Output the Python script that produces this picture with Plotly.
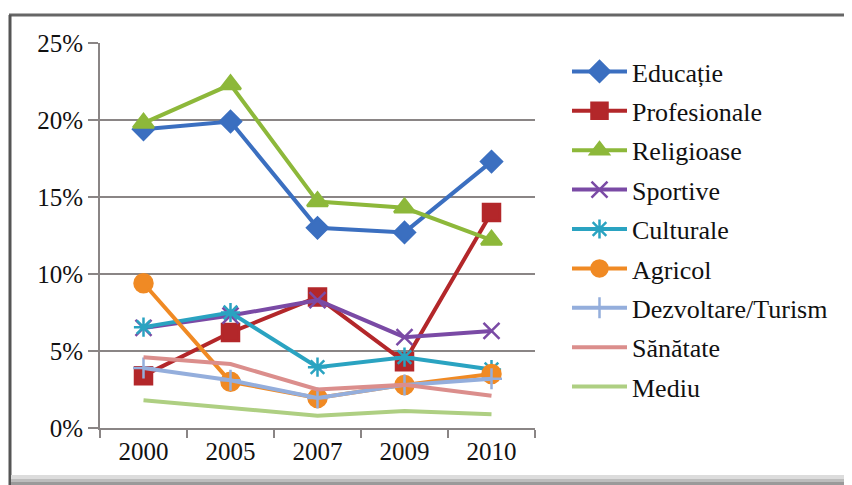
import plotly.graph_objects as go

years = ["2000", "2005", "2007", "2009", "2010"]
tick_vals = [0, 5, 10, 15, 20, 25]
tick_text = ["0%", "5%", "10%", "15%", "20%", "25%"]

educatie = [19.4, 19.9, 13.0, 12.7, 17.3]
profesionale = [3.4, 6.2, 8.5, 4.3, 14.0]
religioase = [19.8, 22.3, 14.7, 14.3, 12.2]
sportive = [6.5, 7.3, 8.3, 5.9, 6.3]
culturale = [6.55, 7.5, 3.95, 4.6, 3.8]
agricol = [9.4, 3.0, 1.95, 2.8, 3.5]
dezvoltare = [3.9, 3.1, 1.95, 2.8, 3.2]
sanatate = [4.6, 4.15, 2.5, 2.8, 2.1]
mediu = [1.8, 1.3, 0.8, 1.1, 0.9]

series = [
    ("Educație", educatie, "#3B6FC0", "diamond", 16),
    ("Profesionale", profesionale, "#B3272A", "square", 17),
    ("Religioase", religioase, "#8DB83A", "triangle-up", 18),
    ("Sportive", sportive, "#7A4AA5", "x-thin-open", 16),
    ("Culturale", culturale, "#2AA3C1", "asterisk-open", 16),
    ("Agricol", agricol, "#F08A24", "circle", 18),
    ("Dezvoltare/Turism", dezvoltare, "#94AEDC", "cross-thin-open", 15),
    ("Sănătate", sanatate, "#DB8E8C", None, 0),
    ("Mediu", mediu, "#AECF82", None, 0),
]

FONT = "Liberation Serif, Times New Roman, serif"

fig = go.Figure()
for i, (name, vals, color, sym, size) in enumerate(series):
    if sym is None:
        mode = "lines"
        marker = None
    else:
        mode = "lines+markers"
        marker = dict(symbol=sym, size=size, color=color,
                      line=dict(color=color, width=2.5))
    fig.add_trace(go.Scatter(
        x=years, y=vals, name=name, mode=mode,
        line=dict(color=color, width=4),
        marker=marker, legendgroup=f"g{i}",
    ))

W, H = 844, 477

fig.update_layout(
    width=W, height=H,
    margin=dict(l=92, r=317, t=35, b=57, autoexpand=False),
    paper_bgcolor="white", plot_bgcolor="white",
    font=dict(family=FONT, size=26, color="#111111"),
    showlegend=True,
    legend=dict(
        xref="container", yref="container", x=559/W, y=1-40/H,
        xanchor="left", yanchor="top",
        font=dict(family=FONT, size=26), itemwidth=55, tracegroupgap=2.6,
        bgcolor="rgba(0,0,0,0)", traceorder="grouped", maxheight=470,
    ),
    xaxis=dict(
        type="category", showgrid=False, showline=True, linecolor="#8a8585", linewidth=2,
        ticks="outside", ticklen=8, tickcolor="#8a8585", tickwidth=2,
        tickson="boundaries", tickfont=dict(family=FONT, size=25), range=[-0.5, 4.5], fixedrange=True,
    ),
    yaxis=dict(
        range=[0, 25], tickvals=tick_vals, ticktext=tick_text,
        showgrid=True, gridcolor="#8a8585", gridwidth=1.5,
        showline=True, linecolor="#8a8585", linewidth=2,
        ticks="outside", ticklen=10, tickcolor="#8a8585", tickwidth=2,
        tickfont=dict(family=FONT, size=25), zeroline=False, fixedrange=True,
    ),
)

def px_x(x):
    return (x - 100) / 435

def px_y(y):
    return (428 - y) / 385

fig.update_layout(shapes=[
    dict(type="line", xref="paper", yref="paper", x0=px_x(9), x1=px_x(870), y0=px_y(15), y1=px_y(15),
         line=dict(color="#666666", width=3), layer="above"),
    dict(type="line", xref="paper", yref="paper", x0=px_x(10), x1=px_x(10), y0=px_y(15), y1=px_y(500),
         line=dict(color="#555555", width=3), layer="above"),
    dict(type="rect", xref="paper", yref="paper", x0=px_x(11), x1=px_x(870), y0=px_y(475), y1=px_y(479),
         fillcolor="#dcdcdc", line=dict(width=0), layer="above"),
    dict(type="rect", xref="paper", yref="paper", x0=px_x(11), x1=px_x(870), y0=px_y(479), y1=px_y(482),
         fillcolor="#bdbdbd", line=dict(width=0), layer="above"),
    dict(type="rect", xref="paper", yref="paper", x0=px_x(11), x1=px_x(870), y0=px_y(482), y1=px_y(500),
         fillcolor="#9a9a9a", line=dict(width=0), layer="above"),
])

fig.write_html("out.html")
